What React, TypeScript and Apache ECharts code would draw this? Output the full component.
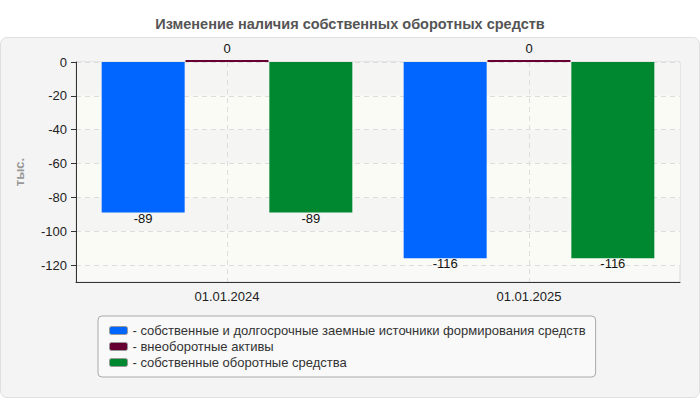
import React, { useRef, useEffect } from 'react';
import * as echarts from 'echarts';

const categories = ['01.01.2024', '01.01.2025'];
const seriesNames = [
  'собственные и долгосрочные заемные источники формирования средств',
  'внеоборотные активы',
  'собственные оборотные средства',
];
const ownAndLongTerm = [-89, -116];
const nonCurrentAssets = [0, 0];
const ownWorkingCapital = [-89, -116];
const yTicks = [0, -20, -40, -60, -80, -100, -120];

const colors = ['#0066ff', '#660033', '#008830'];
const font = '"Liberation Sans", Arial, sans-serif';

const App: React.FC = () => {
  const chartRef = useRef<HTMLDivElement>(null);

  useEffect(() => {
    document.body.style.margin = '0';
    if (!chartRef.current) return;
    const chart = echarts.init(chartRef.current, undefined, { renderer: 'svg' });

    const barLabel = (position: 'top' | 'bottom', distance: number) => ({
      show: true,
      position,
      distance,
      color: '#111',
      fontSize: 13,
      fontFamily: font,
    });

    const options: echarts.EChartsOption = {
      animation: false,
      textStyle: { fontFamily: font },
      title: {
        text: 'Изменение наличия собственных оборотных средств',
        left: 'center',
        top: 11,
        textStyle: { fontSize: 14.5, fontWeight: 'bold', color: '#555', fontFamily: font },
      },
      grid: {
        left: 76,
        right: 20,
        top: 62,
        bottom: 118,
        show: true,
        borderColor: '#d8d8d8',
        borderWidth: 1,
        backgroundColor: '#f9f9f7',
      },
      legend: {
        orient: 'vertical',
        left: 98,
        top: 316,
        padding: [8, 10, 8, 11],
        itemGap: 3,
        itemWidth: 18,
        itemHeight: 8,
        icon: 'roundRect',
        itemStyle: { borderColor: '#999', borderWidth: 1 },
        backgroundColor: '#f9f9f9',
        borderColor: '#aaaaaa',
        borderWidth: 1,
        borderRadius: 4,
        formatter: (name: string) => '- ' + name,
        textStyle: { fontSize: 13, color: '#333', fontFamily: font },
        data: seriesNames,
      },
      xAxis: [
        {
          type: 'category',
          data: categories,
          axisLine: { onZero: false, lineStyle: { color: '#333', width: 1 } },
          axisTick: { alignWithLabel: true, length: 5, lineStyle: { color: '#333' } },
          axisLabel: { fontSize: 13, color: '#222', margin: 8, fontFamily: font },
          splitLine: { show: false },
        },
        {
          // helper axis: dashed vertical lines through category centres
          type: 'category',
          boundaryGap: false,
          data: ['', '', '', '', ''],
          position: 'bottom',
          axisLine: { show: false, onZero: false },
          axisTick: { show: false },
          axisLabel: { show: false },
          splitLine: {
            show: true,
            interval: (index: number) => index === 1 || index === 3,
            lineStyle: { color: '#dddddd', type: [5, 4], width: 1 },
          },
        },
      ],
      yAxis: {
        type: 'value',
        min: -130,
        max: 0,
        name: 'тыс.',
        nameLocation: 'middle',
        nameGap: 50,
        nameTextStyle: { fontSize: 13, fontWeight: 'bold', color: '#999', fontFamily: font },
        axisLine: { show: true, lineStyle: { color: '#333', width: 1 } },
        axisTick: { show: true, length: 5, customValues: yTicks, lineStyle: { color: '#333' } },
        axisLabel: { fontSize: 13, color: '#222', margin: 9, customValues: yTicks, fontFamily: font },
        splitLine: { show: true, lineStyle: { color: '#dddddd', type: [5, 4], width: 1 } },
        splitArea: { show: true, areaStyle: { color: ['#f5f5f3', '#fbfbf6'] } },
      },
      series: [
        {
          name: seriesNames[0],
          type: 'bar',
          data: ownAndLongTerm,
          barWidth: 83,
          barGap: '1%',
          itemStyle: { color: colors[0] },
          label: barLabel('bottom', -1),
        },
        {
          name: seriesNames[1],
          type: 'bar',
          data: nonCurrentAssets,
          barWidth: 83,
          barGap: '1%',
          barMinHeight: 2,
          clip: false,
          itemStyle: { color: colors[1] },
          label: barLabel('top', 5),
        },
        {
          name: seriesNames[2],
          type: 'bar',
          data: ownWorkingCapital,
          barWidth: 83,
          barGap: '1%',
          itemStyle: { color: colors[2] },
          label: barLabel('bottom', -1),
        },
      ],
    };

    chart.setOption(options);
    return () => {
      chart.dispose();
    };
  }, []);

  return (
    <div style={{ position: 'relative', width: 700, height: 400, background: '#fff', overflow: 'hidden' }}>
      <div
        style={{
          position: 'absolute',
          left: 0,
          top: 37,
          width: 698,
          height: 359,
          background: '#f4f4f4',
          border: '1px solid #e0e0e0',
          borderRadius: 7,
        }}
      />
      <div ref={chartRef} style={{ position: 'absolute', left: 0, top: 0, width: 700, height: 400 }} />
    </div>
  );
};

export default App;
